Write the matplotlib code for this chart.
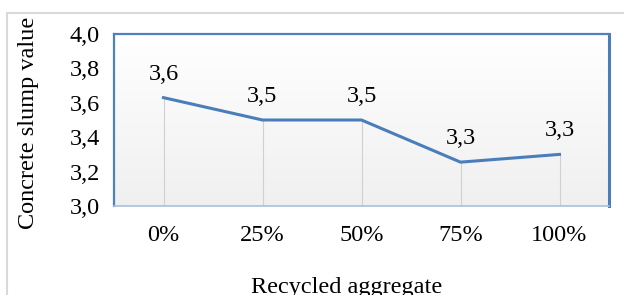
import matplotlib
matplotlib.use("Agg")
import matplotlib.pyplot as plt
import numpy as np
from matplotlib.patches import Rectangle

categories = ["0%", "25%", "50%", "75%", "100%"]
values = [3.63, 3.50, 3.50, 3.255, 3.30]
labels = ["3,6", "3,5", "3,5", "3,3", "3,3"]
yticks = [3.0, 3.2, 3.4, 3.6, 3.8, 4.0]
ytick_labels = ["3,0", "3,2", "3,4", "3,6", "3,8", "4,0"]

plt.rcParams['font.family'] = ['Liberation Serif', 'DejaVu Serif']
FS = 17.5
W, H = 624, 295
fig = plt.figure(figsize=(W/100, H/100), dpi=100)

# outer chart border
fig.patches.append(Rectangle((7/W, -0.1), 1.2, 1 - 13/H + 0.1, transform=fig.transFigure,
                             fill=False, edgecolor='#d9d9d9', linewidth=1.5))

ax = fig.add_axes([114/W, 1 - 206/H, (609-114)/W, (206-34)/H])
x = np.arange(len(categories))
ax.set_xlim(-0.5, len(categories) - 0.5)
ax.set_ylim(3.0, 4.0)

# gradient background
grad = np.linspace(1.0, 0.94, 256).reshape(-1, 1)
ax.imshow(np.dstack([grad, grad, grad]), extent=[-0.5, len(categories) - 0.5, 3.0, 4.0],
          aspect='auto', zorder=0, origin='upper')

# drop lines
for xi, v in zip(x, values):
    ax.plot([xi, xi], [3.0, v], color='#d0d0d0', linewidth=0.8, zorder=1)

ax.plot(x, values, color='#4a7ebb', linewidth=2.2, zorder=3)
for xi, v, lab in zip(x, values, labels):
    ax.annotate(lab, (xi, v), xytext=(0, 17), textcoords='offset points',
                ha='center', va='center', fontsize=FS)

ax.set_xticks(x)
ax.set_xticklabels(categories, fontsize=FS)
ax.set_yticks(yticks)
ax.set_yticklabels(ytick_labels, fontsize=FS)
ax.tick_params(axis='both', length=0)
ax.tick_params(axis='x', pad=14)
ax.tick_params(axis='y', pad=10)

for s in ['top', 'left']:
    ax.spines[s].set_color('#4f81bd')
    ax.spines[s].set_linewidth(1.6)
ax.spines['right'].set_color('#4a7ebb')
ax.spines['right'].set_linewidth(2.2)
ax.spines['bottom'].set_color('#a8c0de')
ax.spines['bottom'].set_linewidth(1.2)

fig.text(29/W, 1 - 123/H, "Concrete slump value", rotation=90, ha='center', va='center', fontsize=FS)
fig.text(347/W, 1 - 293/H, "Recycled aggregate", ha='center', va='baseline', fontsize=FS)

fig.savefig("out.png", dpi=100)
